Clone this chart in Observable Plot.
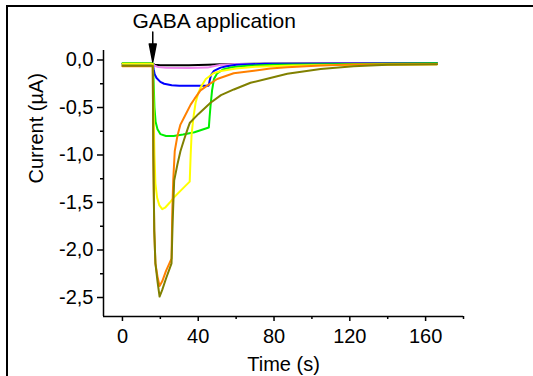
<!DOCTYPE html>
<html>
<head>
<meta charset="utf-8">
<script src="https://cdn.jsdelivr.net/npm/d3@7"></script>
<script src="https://cdn.jsdelivr.net/npm/@observablehq/plot@0.6"></script>
<style>
  html, body { margin: 0; padding: 0; background: #fff; }
  #wrap { position: relative; width: 533px; height: 376px; overflow: hidden; }
  #frame { position: absolute; left: 6px; top: 5px; width: 600px; height: 400px;
           border-top: 2px solid #000; border-left: 2px solid #000; pointer-events: none; }
</style>
</head>
<body>
<div id="wrap"><div id="chart"></div><div id="frame"></div></div>
<script>
// ---- data (time in s, current in µA) ----
const seriesNames  = ["black", "violet", "blue", "green", "yellow", "orange", "olive"];
const seriesColors = ["#000000", "#ee82ee", "#0000ff", "#00ee00", "#ffff00", "#ff8000", "#808000"];

const blackTrace = [[0,-0.04],[16,-0.04],[17,-0.05],[20,-0.055],[35,-0.055],[45,-0.05],[52,-0.045],[70,-0.04],[166,-0.035]];
const violetTrace = [[0,-0.04],[16,-0.04],[17,-0.06],[19,-0.075],[23,-0.082],[35,-0.085],[45,-0.08],[48,-0.065],[52,-0.05],[60,-0.042],[166,-0.035]];
const blueTrace = [[0,-0.04],[16,-0.04],[16.5,-0.1],[17,-0.15],[18,-0.19],[20,-0.23],[22,-0.25],[26,-0.265],[30,-0.27],[45.5,-0.27],[46,-0.22],[46.7,-0.16],[48.3,-0.115],[51.8,-0.08],[55,-0.065],[60,-0.05],[75,-0.04],[166,-0.035]];
const greenTrace = [[0,-0.035],[16,-0.035],[16.4,-0.2],[16.9,-0.5],[17.5,-0.65],[18.5,-0.73],[20,-0.78],[23,-0.8],[27,-0.8],[32,-0.785],[38,-0.76],[45.6,-0.71],[46,-0.6],[46.5,-0.48],[47.3,-0.32],[48.3,-0.2],[50,-0.14],[53,-0.1],[58,-0.075],[66,-0.06],[80,-0.05],[166,-0.035]];
const yellowTrace = [[0,-0.04],[16,-0.04],[16.4,-0.5],[16.9,-1.0],[17.4,-1.3],[18.3,-1.45],[19.5,-1.53],[21,-1.57],[22.5,-1.555],[25,-1.5],[27,-1.45],[31,-1.37],[35.5,-1.28],[36,-1.0],[36.5,-0.78],[37.5,-0.6],[38.6,-0.45],[40,-0.35],[41.5,-0.28],[44,-0.2],[48,-0.14],[52,-0.115],[60,-0.09],[70,-0.07],[90,-0.058],[110,-0.052],[166,-0.045]];
const orangeTrace = [[0,-0.065],[16,-0.065],[16.3,-1.0],[16.8,-1.8],[17.4,-2.14],[18.5,-2.28],[19.6,-2.38],[21,-2.33],[23,-2.22],[25.9,-2.09],[26.3,-1.6],[26.8,-1.27],[27.6,-0.96],[29,-0.8],[30.6,-0.68],[32.4,-0.61],[36,-0.47],[38,-0.41],[41.2,-0.32],[44.7,-0.27],[50,-0.2],[58.7,-0.14],[69.4,-0.113],[78,-0.09],[87,-0.076],[104.6,-0.058],[122,-0.048],[166,-0.045]];
const oliveTrace = [[0,-0.06],[16,-0.06],[16.3,-1.0],[16.8,-1.8],[17.4,-2.14],[18.5,-2.33],[19.6,-2.49],[21,-2.42],[23,-2.3],[25.9,-2.14],[26.5,-1.7],[27.3,-1.27],[29,-1.1],[30.6,-0.96],[32.5,-0.84],[34.5,-0.72],[35.6,-0.66],[40,-0.57],[46.5,-0.45],[52,-0.37],[58.8,-0.31],[67.6,-0.24],[78,-0.19],[87,-0.145],[104.6,-0.095],[122,-0.065],[140,-0.05],[166,-0.045]];
const traces = [blackTrace, violetTrace, blueTrace, greenTrace, yellowTrace, orangeTrace, oliveTrace];

const xMajorTicks = [0, 40, 80, 120, 160];
const xMinorTicks = [20, 60, 100, 140, 180];
const yMajorTicks = [0, -0.5, -1, -1.5, -2, -2.5];
const yMajorLabels = ["0,0", "-0,5", "-1,0", "-1,5", "-2,0", "-2,5"];
const yMinorTicks = [-0.25, -0.75, -1.25, -1.75, -2.25];

const xLabel = "Time (s)";
const yLabel = "Current (µA)";
const annotation = [{label: "GABA application", t: 16, v: -0.02}];

// ---- chart ----
const lineMarks = traces.map((tr, k) =>
  Plot.line(tr.map(([t, v]) => ({t, v})), {
    x: "t", y: "v", stroke: seriesColors[k], strokeWidth: 2,
    strokeLinejoin: "round", strokeLinecap: "round"
  })
);

const arrowShape = {
  draw(context, l) {
    const head = 18, w = 3.5;
    context.moveTo(0, 0);
    context.lineTo(0, -l + head);
    context.moveTo(-w, -l + head);
    context.lineTo(0, -l);
    context.lineTo(w, -l + head);
    context.closePath();
  }
};

const chart = Plot.plot({
  width: 533,
  height: 376,
  marginLeft: 103,
  marginRight: 70,
  marginTop: 50,
  marginBottom: 60,
  style: {fontFamily: "'Liberation Sans', Arial, sans-serif", fontSize: "20px", background: "transparent", color: "#000"},
  x: {domain: [-10, 180], axis: null},
  y: {domain: [-2.7, 0.1], axis: null},
  marks: [
    ...lineMarks,
    Plot.ruleX([-10], {stroke: "#000", strokeWidth: 1.5}),
    Plot.ruleY([-2.7], {stroke: "#000", strokeWidth: 1.5}),
    Plot.axisY(yMajorTicks, {tickSize: 6, tickPadding: 4, strokeWidth: 1.5,
      tickFormat: (d, i) => yMajorLabels[yMajorTicks.indexOf(d)], label: null, fontSize: 20}),
    Plot.axisY(yMinorTicks, {tickSize: 3, strokeWidth: 1.5, tickFormat: () => "", label: null}),
    Plot.axisX(xMajorTicks, {tickSize: 5, tickPadding: 7, strokeWidth: 1.5, label: null, fontSize: 20}),
    Plot.axisX(xMinorTicks, {tickSize: 3, strokeWidth: 1.5, tickFormat: () => "", label: null}),
    Plot.text([xLabel], {frameAnchor: "bottom", text: d => d, dy: 54, lineAnchor: "bottom", fontSize: 20}),
    Plot.text([yLabel], {frameAnchor: "left", text: d => d, rotate: -90, dx: -61, lineAnchor: "bottom", fontSize: 20}),
    Plot.text(annotation, {frameAnchor: "top-left", text: "label", textAnchor: "start", lineAnchor: "bottom", dx: 29, dy: -23, fontSize: 21}),
    Plot.vector(annotation, {x: "t", y: "v", rotate: 180, anchor: "end", length: 30, shape: arrowShape,
      stroke: "#000", fill: "#000", strokeWidth: 1.5})
  ]
});
document.getElementById("chart").appendChild(chart);
</script>
</body>
</html>
